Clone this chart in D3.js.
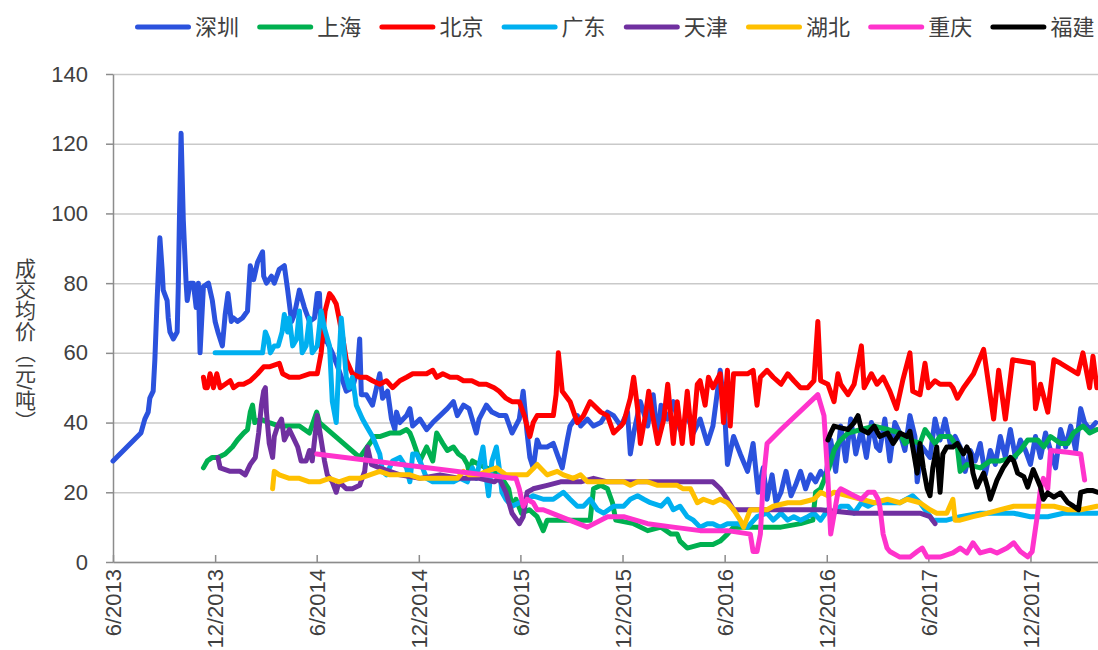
<!DOCTYPE html>
<html>
<head>
<meta charset="utf-8">
<script src="https://cdn.jsdelivr.net/npm/d3@7"></script>
<style>
  body { margin: 0; background: #fff; }
  svg { font-family: "Liberation Sans", "Noto Sans CJK SC", sans-serif; }
</style>
</head>
<body>
<div id="viz"></div>
<script>
const names = ['深圳', '上海', '北京', '广东', '天津', '湖北', '重庆', '福建'];
const colors = ['#2b52dd', '#00b050', '#ff0000', '#00b0f0', '#7030a0', '#ffc000', '#ff33cc', '#000000'];
const yTicks = [0, 20, 40, 60, 80, 100, 120, 140];
const xTicks = ['2013-06-01', '2013-12-01', '2014-06-01', '2014-12-01', '2015-06-01',
    '2015-12-01', '2016-06-01', '2016-12-01', '2017-06-01', '2017-12-01'];
const yTitle = '成交均价（元/吨）';

// 深圳
const sz = [["2013-06-01",29],["2013-07-21",37],["2013-07-28",41],["2013-08-03",43],["2013-08-06",47],["2013-08-12",49],["2013-08-15",58],["2013-08-19",75],["2013-08-24",93],["2013-08-28",84],["2013-08-30",78],["2013-09-06",75],["2013-09-08",70],["2013-09-11",66],["2013-09-17",64],["2013-09-24",66],["2013-09-26",79],["2013-09-28",98],["2013-10-01",123],["2013-10-05",98],["2013-10-10",80],["2013-10-12",75],["2013-10-17",80],["2013-10-23",80],["2013-10-28",73],["2013-11-01",80],["2013-11-04",60],["2013-11-10",79],["2013-11-19",80],["2013-11-26",75],["2013-12-01",69],["2013-12-06",66],["2013-12-14",62],["2013-12-19",71],["2013-12-24",77],["2013-12-30",69],["2014-01-03",70],["2014-01-10",69],["2014-01-19",70],["2014-01-28",72],["2014-02-02",85],["2014-02-08",81],["2014-02-15",86],["2014-02-24",89],["2014-02-26",82],["2014-03-03",80],["2014-03-12",82],["2014-03-17",80],["2014-03-26",84],["2014-04-04",85],["2014-04-10",78],["2014-04-17",69],["2014-04-22",71],["2014-05-01",78],["2014-05-10",73],["2014-05-19",69],["2014-05-28",70],["2014-06-02",77],["2014-06-06",77],["2014-06-09",62],["2014-06-11",64],["2014-06-20",63],["2014-06-29",60],["2014-07-11",55],["2014-07-24",49],["2014-08-04",50],["2014-08-13",55],["2014-08-17",64],["2014-08-20",48],["2014-08-29",48],["2014-09-09",45],["2014-09-22",54],["2014-09-27",47],["2014-10-06",49],["2014-10-13",41],["2014-10-19",38],["2014-10-22",43],["2014-10-28",40],["2014-11-09",42],["2014-11-15",44],["2014-11-20",39],["2014-12-03",41],["2014-12-15",38],["2014-12-26",40],["2015-01-08",42],["2015-01-21",44],["2015-02-01",46],["2015-02-08",42],["2015-02-19",45],["2015-03-01",44],["2015-03-14",37],["2015-03-19",41],["2015-04-01",45],["2015-04-11",43],["2015-04-24",42],["2015-05-06",42],["2015-05-17",37],["2015-05-30",41],["2015-06-06",49],["2015-06-13",37],["2015-06-18",30],["2015-06-24",27],["2015-07-01",35],["2015-07-06",33],["2015-07-19",33],["2015-07-30",34],["2015-08-08",30],["2015-08-15",27],["2015-08-24",35],["2015-08-29",39],["2015-09-11",42],["2015-09-17",39],["2015-09-29",41],["2015-10-10",39],["2015-10-23",40],["2015-11-04",43],["2015-11-15",42],["2015-11-28",39],["2015-12-10",43],["2015-12-15",31],["2015-12-21",37],["2016-01-02",46],["2016-01-15",39],["2016-01-25",48],["2016-02-02",35],["2016-02-08",45],["2016-02-20",41],["2016-03-01",46],["2016-03-13",38],["2016-03-26",42],["2016-04-06",37],["2016-04-18",41],["2016-05-01",34],["2016-05-11",39],["2016-05-24",55],["2016-06-01",43],["2016-06-06",28],["2016-06-17",36],["2016-06-29",31],["2016-07-12",26],["2016-07-22",34],["2016-07-31",20],["2016-08-09",27],["2016-08-16",18],["2016-08-25",25],["2016-09-01",17],["2016-09-10",20],["2016-09-19",26],["2016-09-28",19],["2016-10-06",22],["2016-10-15",26],["2016-10-24",21],["2016-11-02",25],["2016-11-11",23],["2016-11-20",26],["2016-11-29",24],["2016-12-08",35],["2016-12-17",26],["2016-12-26",39],["2017-01-04",29],["2017-01-13",41],["2017-01-22",31],["2017-02-01",38],["2017-02-10",30],["2017-02-19",40],["2017-02-28",33],["2017-03-06",32],["2017-03-15",41],["2017-03-24",29],["2017-04-02",40],["2017-04-11",37],["2017-04-20",32],["2017-04-29",42],["2017-05-08",36],["2017-05-12",23],["2017-05-21",33],["2017-06-04",30],["2017-06-13",41],["2017-06-22",35],["2017-07-01",41],["2017-07-10",34],["2017-07-19",36],["2017-07-28",33],["2017-08-06",26],["2017-08-15",32],["2017-08-24",29],["2017-09-02",34],["2017-09-11",25],["2017-09-20",32],["2017-09-29",28],["2017-10-08",36],["2017-10-17",30],["2017-10-26",38],["2017-11-04",30],["2017-11-13",35],["2017-11-22",32],["2017-12-01",28],["2017-12-10",36],["2017-12-19",30],["2017-12-28",37],["2018-01-06",32],["2018-01-15",27],["2018-01-24",38],["2018-02-02",33],["2018-02-11",39],["2018-02-20",32],["2018-03-01",44],["2018-03-08",40],["2018-03-17",38],["2018-03-28",40]];

// 上海
const sh = [["2013-11-10",27],["2013-11-17",29],["2013-11-26",30],["2013-12-06",30],["2013-12-19",31],["2014-01-01",33],["2014-01-10",35],["2014-01-21",37],["2014-01-28",38],["2014-02-02",43],["2014-02-06",45],["2014-02-10",40],["2014-02-20",41],["2014-03-08",40],["2014-03-26",39],["2014-04-13",39],["2014-05-01",39],["2014-05-10",38],["2014-05-19",37],["2014-06-01",43],["2014-06-06",40],["2014-08-17",30],["2014-08-26",32],["2014-09-04",34],["2014-09-13",36],["2014-09-22",36],["2014-10-10",37],["2014-10-28",37],["2014-11-09",38],["2014-11-15",37],["2014-11-20",35],["2014-12-03",29],["2014-12-15",33],["2014-12-26",29],["2015-01-02",37],["2015-01-13",34],["2015-01-21",32],["2015-02-01",33],["2015-02-10",31],["2015-02-19",30],["2015-02-26",28],["2015-03-01",26],["2015-03-07",29],["2015-03-19",28],["2015-04-01",27],["2015-04-15",26],["2015-04-29",24],["2015-05-11",21],["2015-05-17",16],["2015-05-24",18],["2015-06-03",14],["2015-06-17",15],["2015-07-01",13],["2015-07-12",9],["2015-07-19",12],["2015-07-24",12],["2015-08-24",12],["2015-10-04",12],["2015-10-10",21],["2015-10-23",22],["2015-11-04",21],["2015-11-13",17],["2015-11-19",12],["2015-12-21",11],["2016-01-15",9],["2016-02-08",10],["2016-02-26",8],["2016-03-08",8],["2016-03-13",6],["2016-03-26",4],["2016-04-18",5],["2016-05-11",5],["2016-05-24",6],["2016-06-06",8],["2016-06-17",10],["2016-07-12",10],["2016-09-10",10],["2016-10-15",11],["2016-11-06",12],["2016-11-11",20],["2016-11-20",21],["2016-12-05",27],["2016-12-14",32],["2016-12-21",34],["2016-12-26",35],["2017-01-08",37],["2017-02-01",38],["2017-02-24",39],["2017-03-20",38],["2017-04-11",37],["2017-04-20",34],["2017-04-29",35],["2017-05-17",34],["2017-05-26",38],["2017-06-13",34],["2017-06-22",36],["2017-07-10",36],["2017-07-23",33],["2017-07-28",26],["2017-08-09",28],["2017-09-02",27],["2017-09-20",29],["2017-10-08",29],["2017-11-01",30],["2017-11-13",32],["2017-11-26",35],["2017-12-14",35],["2017-12-25",33],["2018-01-06",36],["2018-01-24",34],["2018-02-06",34],["2018-02-16",37],["2018-03-05",39],["2018-03-17",37],["2018-03-30",38]];

// 北京
const bj = [["2013-11-10",53],["2013-11-13",50],["2013-11-17",50],["2013-11-22",54],["2013-11-28",50],["2013-12-04",54],["2013-12-10",50],["2013-12-19",51],["2013-12-28",52],["2014-01-03",50],["2014-01-12",51],["2014-01-21",51],["2014-02-02",52],["2014-02-15",54],["2014-02-26",56],["2014-03-08",56],["2014-03-26",57],["2014-04-01",54],["2014-04-13",53],["2014-05-01",53],["2014-05-19",54],["2014-06-02",54],["2014-06-09",60],["2014-06-16",72],["2014-06-24",77],["2014-06-29",76],["2014-07-06",74],["2014-07-11",70],["2014-07-17",65],["2014-07-24",58],["2014-08-04",54],["2014-08-17",53],["2014-08-29",53],["2014-09-09",52],["2014-09-22",51],["2014-10-04",52],["2014-10-15",50],["2014-10-28",52],["2014-11-09",53],["2014-11-20",54],["2014-12-03",54],["2014-12-15",54],["2014-12-26",55],["2015-01-02",53],["2015-01-13",54],["2015-01-26",53],["2015-02-08",53],["2015-02-19",52],["2015-03-06",52],["2015-03-19",51],["2015-04-01",51],["2015-04-15",50],["2015-04-24",49],["2015-05-06",47],["2015-05-17",46],["2015-05-30",46],["2015-06-08",42],["2015-06-18",36],["2015-06-24",40],["2015-07-01",42],["2015-07-19",42],["2015-07-30",42],["2015-08-04",48],["2015-08-08",60],["2015-08-15",49],["2015-08-29",46],["2015-09-11",40],["2015-09-22",42],["2015-10-04",46],["2015-10-23",43],["2015-11-04",42],["2015-11-15",37],["2015-11-28",39],["2015-12-03",40],["2015-12-15",47],["2015-12-21",53],["2015-12-28",44],["2016-01-02",34],["2016-01-11",42],["2016-01-17",49],["2016-01-24",42],["2016-02-02",34],["2016-02-13",41],["2016-02-20",51],["2016-03-01",34],["2016-03-08",46],["2016-03-17",34],["2016-03-26",49],["2016-04-04",34],["2016-04-13",51],["2016-04-18",52],["2016-04-27",45],["2016-05-03",53],["2016-05-11",50],["2016-05-24",54],["2016-05-30",40],["2016-06-06",55],["2016-06-11",39],["2016-06-17",54],["2016-06-29",54],["2016-07-05",54],["2016-07-12",54],["2016-07-22",55],["2016-07-29",45],["2016-08-04",53],["2016-08-16",55],["2016-08-27",53],["2016-09-10",51],["2016-09-22",54],["2016-10-03",52],["2016-10-15",50],["2016-10-28",50],["2016-11-08",52],["2016-11-15",69],["2016-11-20",52],["2016-12-03",51],["2016-12-14",46],["2016-12-21",54],["2016-12-26",51],["2017-01-08",48],["2017-01-19",51],["2017-02-01",62],["2017-02-06",50],["2017-02-19",54],["2017-03-01",51],["2017-03-12",53],["2017-03-24",49],["2017-04-05",44],["2017-04-16",52],["2017-04-29",60],["2017-05-04",49],["2017-05-17",48],["2017-05-26",57],["2017-06-01",50],["2017-06-13",52],["2017-06-22",51],["2017-07-10",51],["2017-07-15",50],["2017-07-23",47],["2017-08-03",50],["2017-08-21",54],["2017-09-08",61],["2017-09-26",41],["2017-10-05",55],["2017-10-17",41],["2017-10-30",58],["2017-12-06",57],["2017-12-10",44],["2017-12-19",51],["2018-01-01",43],["2018-01-12",58],["2018-01-24",57],["2018-02-24",54],["2018-03-05",60],["2018-03-17",50],["2018-03-23",59],["2018-03-30",50]];

// 广东
const gd = [["2013-12-01",60],["2014-02-24",60],["2014-03-01",66],["2014-03-06",64],["2014-03-10",60],["2014-03-17",62],["2014-03-24",62],["2014-03-31",66],["2014-04-04",71],["2014-04-10",66],["2014-04-13",70],["2014-04-19",62],["2014-04-26",64],["2014-05-01",72],["2014-05-06",60],["2014-05-13",62],["2014-05-19",70],["2014-05-24",60],["2014-06-02",62],["2014-06-09",72],["2014-06-15",67],["2014-06-24",62],["2014-06-29",46],["2014-07-06",40],["2014-07-11",58],["2014-07-15",70],["2014-07-19",63],["2014-07-24",53],["2014-07-29",50],["2014-08-04",53],["2014-08-11",45],["2014-08-22",41],["2014-08-29",39],["2014-09-09",36],["2014-09-22",31],["2014-09-27",26],["2014-10-04",25],["2014-10-15",29],["2014-10-28",30],["2014-11-09",27],["2014-11-15",23],["2014-11-20",31],["2014-11-27",31],["2014-12-03",29],["2014-12-15",24],["2014-12-26",23],["2015-01-08",23],["2015-02-01",23],["2015-02-13",24],["2015-02-26",23],["2015-03-07",27],["2015-03-14",24],["2015-03-26",33],["2015-04-01",24],["2015-04-05",19],["2015-04-11",29],["2015-04-19",33],["2015-04-24",27],["2015-04-29",20],["2015-05-06",18],["2015-05-17",16],["2015-05-30",17],["2015-06-13",18],["2015-06-24",19],["2015-07-12",18],["2015-07-30",18],["2015-08-17",20],["2015-08-29",18],["2015-09-11",16],["2015-09-22",16],["2015-10-04",18],["2015-10-17",15],["2015-10-28",14],["2015-11-15",16],["2015-12-03",16],["2015-12-15",18],["2015-12-28",19],["2016-01-08",18],["2016-01-20",17],["2016-02-08",16],["2016-02-20",18],["2016-03-01",15],["2016-03-13",16],["2016-03-26",13],["2016-04-06",12],["2016-04-18",10],["2016-05-01",11],["2016-05-11",11],["2016-05-24",10],["2016-06-06",11],["2016-06-24",11],["2016-07-12",10],["2016-07-29",13],["2016-08-16",14],["2016-08-27",12],["2016-09-10",14],["2016-09-22",12],["2016-10-03",13],["2016-10-15",12],["2016-10-28",13],["2016-11-08",14],["2016-11-20",12],["2016-12-03",15],["2016-12-14",14],["2016-12-26",16],["2017-01-08",16],["2017-01-19",14],["2017-02-01",17],["2017-02-13",16],["2017-02-24",17],["2017-03-20",17],["2017-04-11",17],["2017-05-04",19],["2017-05-17",17],["2017-06-09",12],["2017-07-04",12],["2017-07-28",13],["2017-09-02",14],["2017-10-02",14],["2017-11-01",14],["2017-12-01",13],["2018-01-01",13],["2018-01-29",14],["2018-03-01",14],["2018-03-30",14]];

// 天津
const tj = [["2013-12-06",30],["2013-12-10",27],["2013-12-28",26],["2014-01-15",26],["2014-01-24",25],["2014-02-02",28],["2014-02-11",30],["2014-02-17",37],["2014-02-22",45],["2014-02-26",49],["2014-03-01",50],["2014-03-03",43],["2014-03-08",34],["2014-03-14",30],["2014-03-17",36],["2014-03-23",39],["2014-03-30",41],["2014-04-04",35],["2014-04-13",38],["2014-04-19",36],["2014-04-28",33],["2014-05-04",29],["2014-05-13",29],["2014-05-19",32],["2014-05-24",29],["2014-06-02",42],["2014-06-09",35],["2014-06-15",29],["2014-06-20",25],["2014-06-29",23],["2014-07-06",20],["2014-07-11",23],["2014-07-24",21],["2014-08-04",21],["2014-08-17",22],["2014-08-26",26],["2014-08-31",33],["2014-09-07",28],["2014-09-22",27],["2014-10-10",26],["2014-10-28",25],["2014-12-03",24],["2015-01-08",25],["2015-02-13",24],["2015-03-19",24],["2015-04-15",23],["2015-04-24",24],["2015-05-06",20],["2015-05-17",14],["2015-05-30",11],["2015-06-06",13],["2015-06-13",20],["2015-06-24",21],["2015-07-19",22],["2015-08-12",23],["2015-09-17",23],["2015-10-10",24],["2015-11-04",23],["2015-12-21",23],["2016-02-20",23],["2016-03-26",23],["2016-05-11",23],["2016-05-24",21],["2016-06-06",18],["2016-06-17",15],["2016-06-29",15],["2016-07-22",15],["2016-09-22",15],["2016-11-20",15],["2017-01-19",14],["2017-03-20",14],["2017-05-17",14],["2017-06-04",13],["2017-06-13",11]];

// 湖北
const hb = [["2014-03-14",21],["2014-03-17",26],["2014-03-26",25],["2014-04-13",24],["2014-05-01",24],["2014-05-19",23],["2014-06-06",23],["2014-06-24",24],["2014-07-11",23],["2014-07-29",24],["2014-08-17",24],["2014-09-04",25],["2014-09-22",26],["2014-10-10",25],["2014-10-28",25],["2014-11-15",25],["2014-12-03",24],["2014-12-26",24],["2015-01-13",24],["2015-02-08",24],["2015-02-19",26],["2015-03-01",25],["2015-03-19",25],["2015-04-01",26],["2015-04-19",27],["2015-05-06",25],["2015-05-24",25],["2015-06-13",25],["2015-07-01",28],["2015-07-19",25],["2015-08-06",26],["2015-08-17",25],["2015-09-04",24],["2015-09-17",25],["2015-09-29",23],["2015-10-17",23],["2015-10-28",23],["2015-11-15",23],["2015-12-03",23],["2015-12-15",22],["2015-12-28",23],["2016-01-15",23],["2016-02-02",22],["2016-02-20",22],["2016-03-08",22],["2016-03-19",21],["2016-04-01",21],["2016-04-13",17],["2016-04-24",18],["2016-05-11",17],["2016-05-24",18],["2016-06-06",17],["2016-06-17",15],["2016-06-29",12],["2016-07-05",10],["2016-07-17",15],["2016-07-29",15],["2016-08-16",15],["2016-08-27",16],["2016-09-22",17],["2016-10-15",17],["2016-11-08",18],["2016-11-20",20],["2016-12-03",19],["2016-12-14",20],["2017-01-08",19],["2017-02-01",18],["2017-02-24",17],["2017-03-20",18],["2017-04-11",17],["2017-04-24",18],["2017-05-17",17],["2017-06-04",15],["2017-06-16",14],["2017-07-04",14],["2017-07-15",18],["2017-07-19",12],["2017-07-28",12],["2017-08-20",13],["2017-09-15",14],["2017-10-08",15],["2017-11-01",16],["2017-11-26",16],["2017-12-19",16],["2018-01-12",16],["2018-02-06",15],["2018-03-01",15],["2018-03-30",16]];

// 重庆
const cq = [["2014-06-01",31],["2015-05-17",24],["2015-05-24",24],["2015-05-30",21],["2015-06-06",16],["2015-06-13",18],["2015-06-24",17],["2015-07-01",15],["2015-07-12",15],["2015-08-12",13],["2015-09-29",10],["2015-11-04",13],["2015-12-03",13],["2016-01-15",11],["2016-03-01",10],["2016-04-18",9],["2016-06-06",9],["2016-07-17",8],["2016-07-22",3],["2016-07-29",3],["2016-08-04",8],["2016-08-09",23],["2016-08-16",34],["2016-09-10",38],["2016-11-15",48],["2016-11-26",42],["2016-12-03",24],["2016-12-08",8],["2016-12-21",20],["2016-12-26",21],["2017-01-19",19],["2017-02-01",18],["2017-02-13",20],["2017-02-24",20],["2017-03-03",18],["2017-03-06",16],["2017-03-12",8],["2017-03-19",4],["2017-03-24",3],["2017-04-11",1.4],["2017-04-29",1.4],["2017-05-12",3],["2017-05-21",4],["2017-05-30",1.4],["2017-06-22",1.4],["2017-07-15",2.6],["2017-07-28",4],["2017-08-09",2.6],["2017-08-20",5.5],["2017-09-02",2.6],["2017-09-20",3.4],["2017-10-02",2.6],["2017-10-20",4],["2017-11-01",5.5],["2017-11-13",3],["2017-11-26",1.5],["2017-12-04",3],["2017-12-13",13],["2017-12-19",21],["2017-12-24",24],["2018-01-01",21],["2018-01-06",32],["2018-02-06",31.5],["2018-03-01",31],["2018-03-08",23.5]];

// 福建
const fj = [["2016-12-03",35],["2016-12-08",37],["2016-12-14",39],["2016-12-26",38.5],["2017-01-08",38],["2017-01-19",40],["2017-01-26",42],["2017-02-01",38],["2017-02-13",37],["2017-02-24",39],["2017-03-06",36],["2017-03-20",37],["2017-03-30",34],["2017-04-11",37],["2017-04-24",36],["2017-04-29",37.5],["2017-05-04",33],["2017-05-12",25.5],["2017-05-17",34],["2017-05-23",27],["2017-05-30",21],["2017-06-04",19],["2017-06-09",27],["2017-06-16",33],["2017-06-22",20],["2017-06-27",31],["2017-07-04",33],["2017-07-15",33],["2017-07-23",34],["2017-08-03",31],["2017-08-09",33],["2017-08-15",31],["2017-08-20",25.5],["2017-08-27",21.5],["2017-09-02",23.5],["2017-09-08",25.5],["2017-09-15",21.5],["2017-09-20",18],["2017-10-02",23.5],["2017-10-13",27],["2017-10-26",30],["2017-11-01",29],["2017-11-08",25.5],["2017-11-19",24.5],["2017-11-26",21.5],["2017-12-06",26.5],["2017-12-19",21.5],["2017-12-24",18],["2018-01-01",19.8],["2018-01-12",18.6],["2018-01-24",19.8],["2018-02-06",17],["2018-02-16",16],["2018-02-25",15],["2018-03-01",20],["2018-03-12",20.5],["2018-03-23",20.5],["2018-04-01",20]];

const series = [sz, sh, bj, gd, tj, hb, cq, fj];

const svg = d3.select('#viz')
    .append('svg')
    .attr('width', 1098)
    .attr('height', 650);

const margin = {top: 74, right: 0, bottom: 88, left: 113},
    width = +svg.attr('width') - margin.left - margin.right,
    height = +svg.attr('height') - margin.top - margin.bottom;

const parse = d3.timeParse('%Y-%m-%d');
const textColor = '#404040';

const x = d3.scaleTime()
    .domain([parse('2013-06-01'), parse('2018-04-01')])
    .range([0, width]);

const y = d3.scaleLinear()
    .domain([0, 140])
    .range([height, 0]);

const g = svg.append('g')
    .attr('transform', 'translate(' + margin.left + ',' + margin.top + ')');

// gridlines
const grid = g.append('g')
    .call(d3.axisLeft(y).tickValues(yTicks).tickSize(-width).tickFormat(''));
grid.select('.domain').remove();
grid.selectAll('line').attr('stroke', '#c9c9c9').attr('stroke-width', 1.5);

// y axis
const yAxis = g.append('g')
    .call(d3.axisLeft(y).tickValues(yTicks).tickSize(7).tickSizeOuter(0).tickPadding(18));
yAxis.select('.domain').attr('stroke', '#8c8c8c').attr('stroke-width', 1.5);
yAxis.selectAll('line').attr('stroke', '#8c8c8c').attr('stroke-width', 1.5);
yAxis.selectAll('text').attr('fill', textColor).style('font-size', '22px');

// x axis
const xAxis = g.append('g')
    .attr('transform', 'translate(0,' + height + ')')
    .call(d3.axisBottom(x)
        .tickValues(xTicks.map(parse))
        .tickFormat(d3.timeFormat('%-m/%Y'))
        .tickSize(-7)
        .tickSizeOuter(0));
xAxis.select('.domain').attr('stroke', '#8c8c8c').attr('stroke-width', 1.5);
xAxis.selectAll('line').attr('stroke', '#8c8c8c').attr('stroke-width', 1.5);
xAxis.selectAll('text')
    .attr('fill', textColor)
    .style('font-size', '22px')
    .attr('transform', 'rotate(-90)')
    .attr('x', -7)
    .attr('y', 0)
    .attr('dy', '0.35em')
    .style('text-anchor', 'end');

// lines
const line = d3.line()
    .x(d => x(parse(d[0])))
    .y(d => y(d[1]));

g.selectAll('path.series')
    .data(series)
    .enter().append('path')
    .attr('class', 'series')
    .attr('d', line)
    .attr('fill', 'none')
    .attr('stroke', (d, i) => colors[i])
    .attr('stroke-width', 5)
    .attr('stroke-linejoin', 'round')
    .attr('stroke-linecap', 'round');

// legend
const legend = svg.append('g')
    .selectAll('g')
    .data(names)
    .enter().append('g')
    .attr('transform', (d, i) => 'translate(' + (135 + i * 122.2) + ',27)');

legend.append('line')
    .attr('x1', 2.5).attr('x2', 53.5)
    .attr('stroke', (d, i) => colors[i])
    .attr('stroke-width', 5)
    .attr('stroke-linecap', 'round');

legend.append('text')
    .attr('x', 60)
    .attr('dy', '0.35em')
    .attr('fill', textColor)
    .style('font-size', '22px')
    .text(d => d);

// y title
svg.append('text')
    .attr('x', 24)
    .attr('y', 258)
    .attr('fill', textColor)
    .style('font-size', '21px')
    .style('writing-mode', 'vertical-rl')
    .text(yTitle);
</script>
</body>
</html>
